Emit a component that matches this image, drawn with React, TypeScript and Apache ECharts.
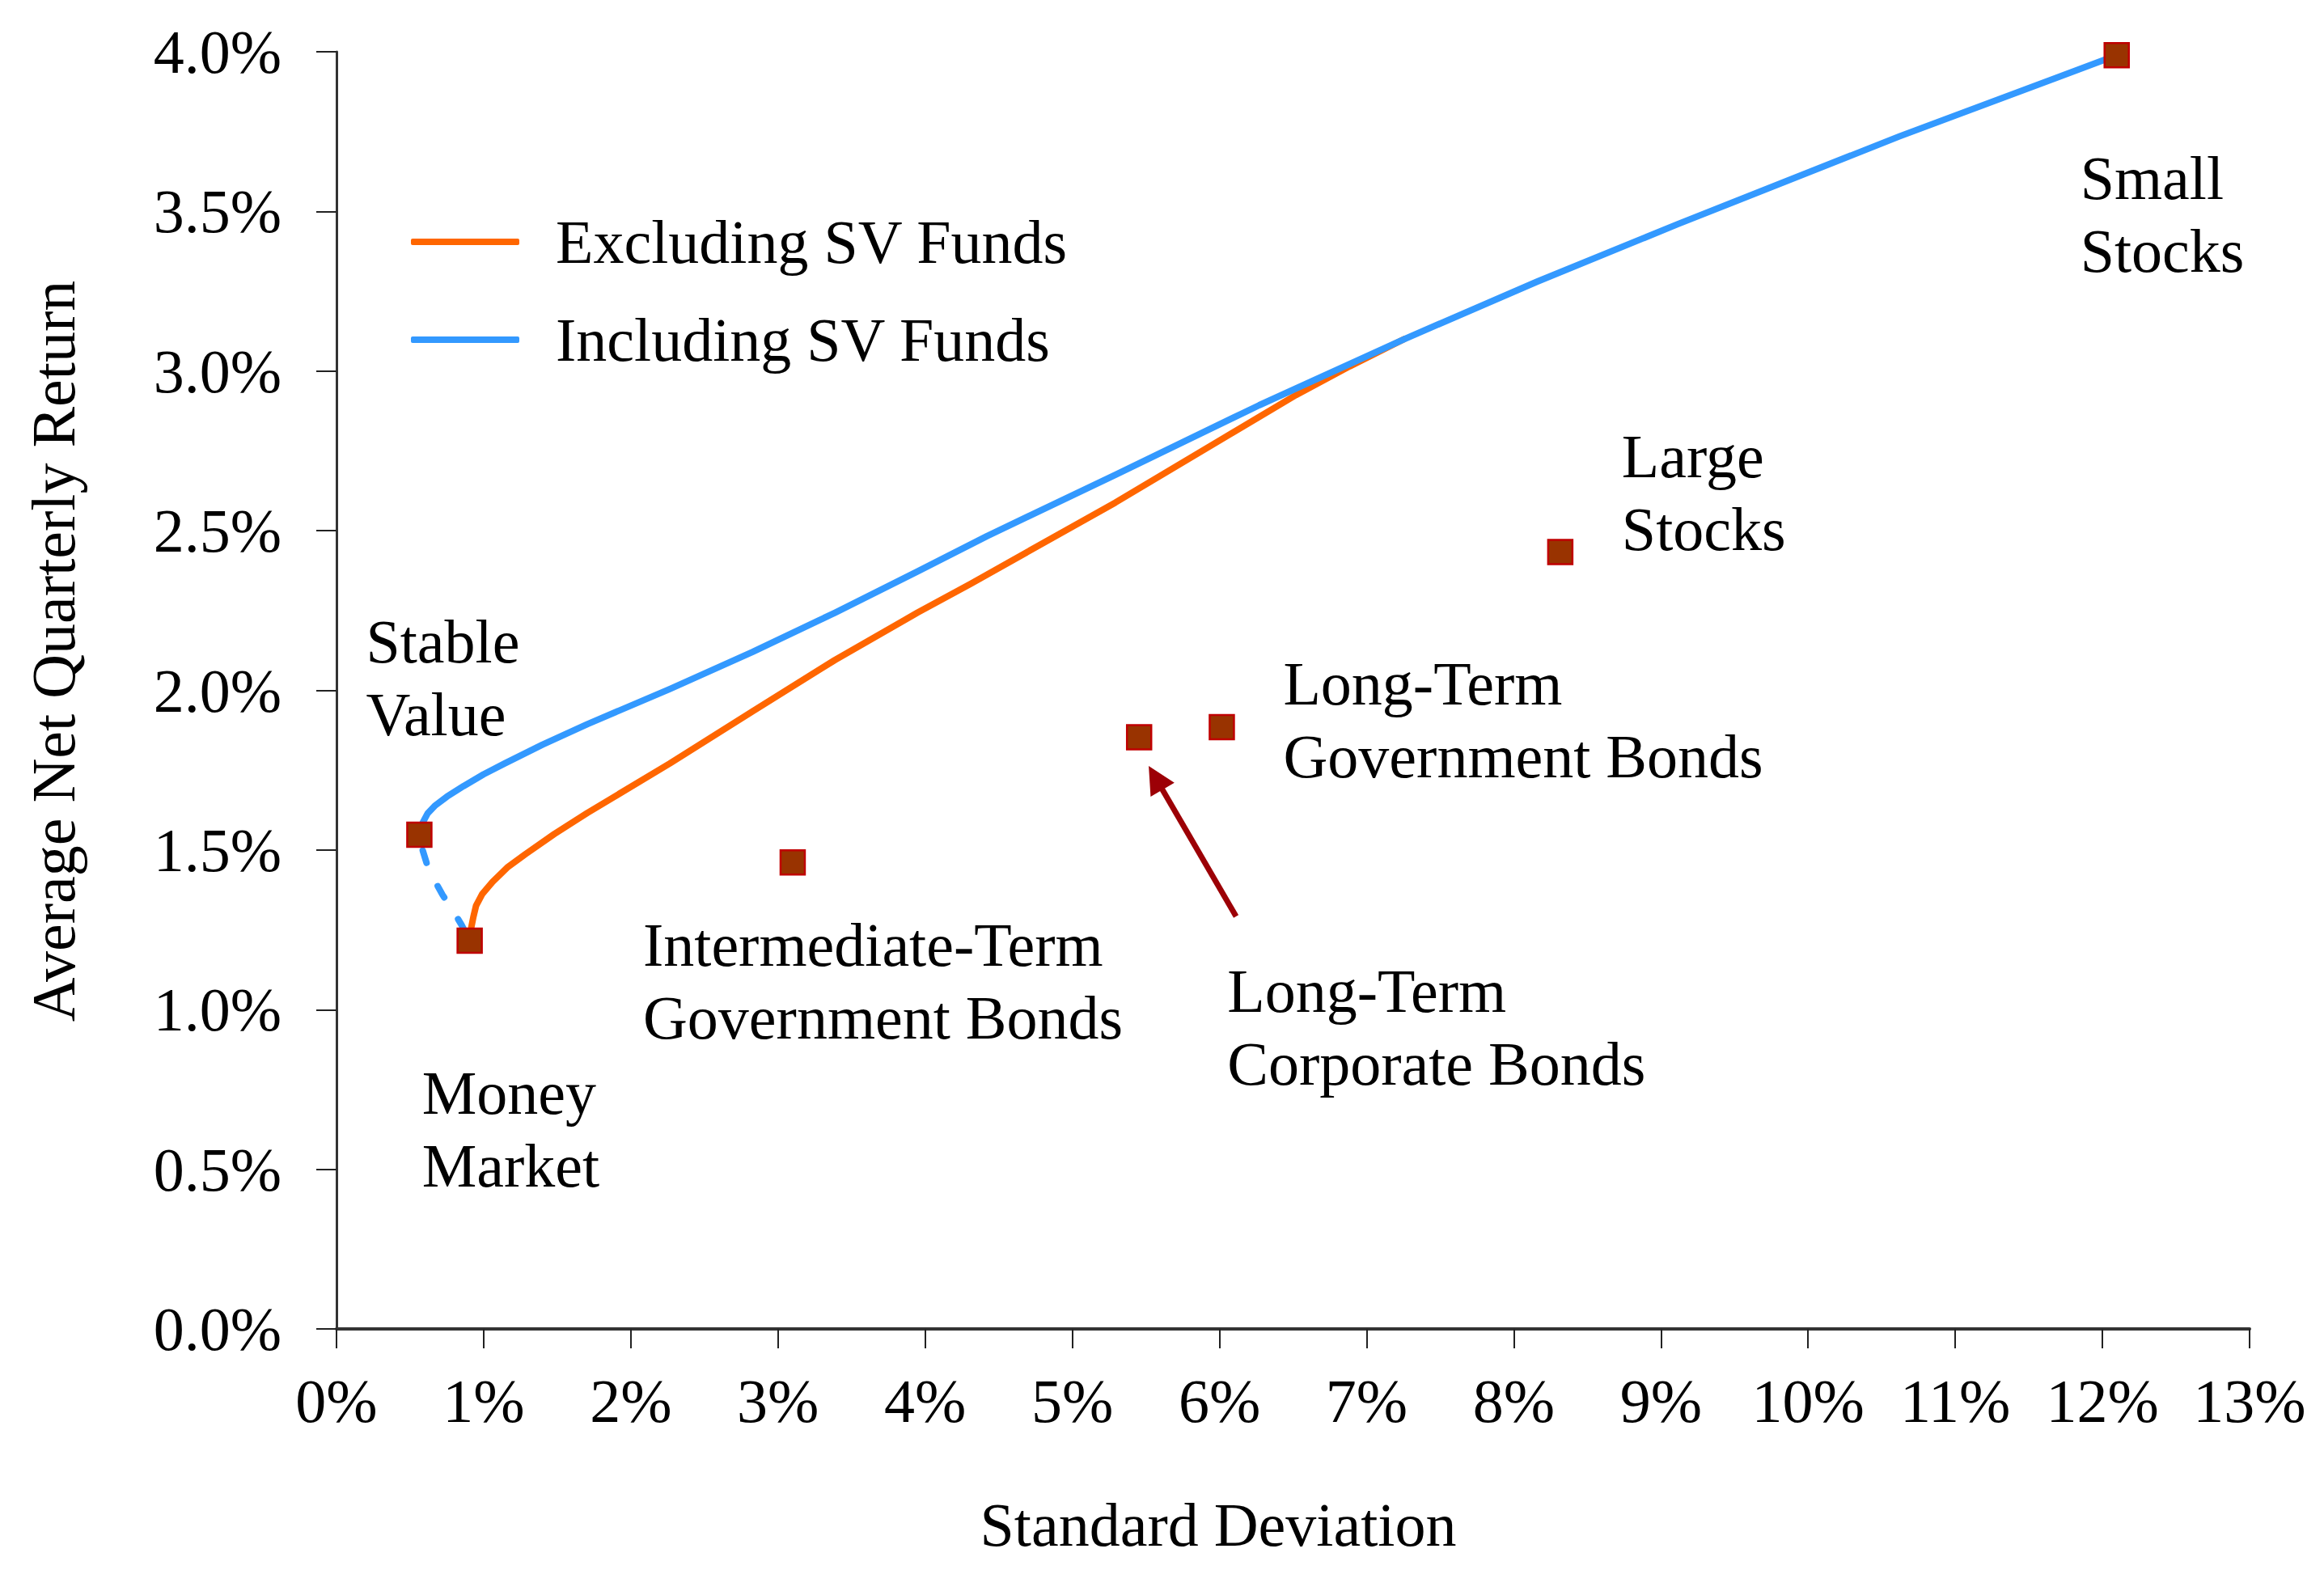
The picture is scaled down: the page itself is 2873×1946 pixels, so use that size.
import React, { useEffect, useRef } from "react";
import * as echarts from "echarts";

// ---- Data ----
const xTicks = [0, 1, 2, 3, 4, 5, 6, 7, 8, 9, 10, 11, 12, 13];
const yTicks = [0, 0.5, 1, 1.5, 2, 2.5, 3, 3.5, 4];

const assetNames = [
  "Stable\nValue",
  "Money\nMarket",
  "Intermediate-Term\nGovernment Bonds",
  "Long-Term\nCorporate Bonds",
  "Long-Term\nGovernment Bonds",
  "Large\nStocks",
  "Small\nStocks",
];
const assetSD = [0.563, 0.905, 3.1, 5.454, 6.016, 8.316, 12.097];
const assetReturn = [1.548, 1.216, 1.461, 1.853, 1.885, 2.433, 3.989];

// Frontier including stable value funds
const inclSD = [0.563, 0.585, 0.62, 0.667, 0.75, 0.863, 1.0, 1.143, 1.4, 1.704, 2.265, 2.826, 3.387, 3.947, 4.42, 5.292, 6.27, 7.255, 8.158, 9.114, 10.62, 12.097];
const inclRet = [1.548, 1.585, 1.615, 1.638, 1.667, 1.7, 1.737, 1.771, 1.83, 1.894, 2.004, 2.12, 2.243, 2.372, 2.483, 2.675, 2.893, 3.1, 3.28, 3.46, 3.735, 3.989];

// Frontier excluding stable value funds
const exclSD = [0.905, 0.915, 0.93, 0.948, 0.99, 1.06, 1.16, 1.284, 1.48, 1.704, 2.265, 2.826, 3.387, 3.947, 4.31, 5.292, 6.028, 6.52, 6.886, 7.255];
const exclRet = [1.216, 1.255, 1.29, 1.325, 1.362, 1.4, 1.445, 1.487, 1.55, 1.616, 1.771, 1.934, 2.095, 2.243, 2.334, 2.588, 2.79, 2.925, 3.015, 3.1];

// Dashed link between stable value and money market
const linkSD = [0.563, 0.585, 0.615, 0.66, 0.72, 0.785, 0.85, 0.905];
const linkRet = [1.548, 1.5, 1.455, 1.41, 1.36, 1.315, 1.265, 1.216];

// Arrow pointing at Long-Term Corporate Bonds
const arrowFrom = [6.113, 1.292];
const arrowTo = [5.566, 1.726];

const legendNames = ["Excluding SV Funds", "Including SV Funds"];
const xTitle = "Standard Deviation";
const yTitle = "Average Net Quarterly Return";

// ---- Styles ----
const FONT = '"Liberation Serif", "Times New Roman", serif';
const FS = 76;
const ORANGE = "#FF6600";
const BLUE = "#3399FF";
const LW = 8;
const labelOffsets = [
  [-66, -284],
  [-59, 143],
  [-185, 57],
  [109, 268],
  [76, -99],
  [76, -164],
  [-45, 107],
];

const zip = (a: number[], b: number[]) => a.map((v, i) => [v, b[i]]);

export default function App() {
  const ref = useRef<HTMLDivElement>(null);

  useEffect(() => {
    document.body.style.margin = "0";
    if (!ref.current) return;
    const chart = echarts.init(ref.current, undefined, { renderer: "svg" });

    const option: any = {
      animation: false,
      backgroundColor: "#ffffff",
      grid: { left: 416, right: 92, top: 64, bottom: 303, containLabel: false },
      xAxis: {
        type: "value",
        min: xTicks[0],
        max: xTicks[xTicks.length - 1],
        interval: 1,
        axisLine: { show: true, lineStyle: { color: "#333", width: 4 } },
        axisTick: { show: true, inside: false, length: 24, lineStyle: { color: "#222", width: 2 } },
        axisLabel: {
          margin: 51,
          fontFamily: FONT,
          fontSize: FS,
          color: "#000",
          formatter: (v: number) => `${v}%`,
        },
        splitLine: { show: false },
      },
      yAxis: {
        type: "value",
        min: yTicks[0],
        max: yTicks[yTicks.length - 1],
        interval: 0.5,
        axisLine: { show: true, lineStyle: { color: "#333", width: 3 } },
        axisTick: { show: true, inside: false, length: 25, lineStyle: { color: "#222", width: 2 } },
        axisLabel: {
          margin: 68,
          fontFamily: FONT,
          fontSize: FS,
          color: "#000",
          formatter: (v: number) => `${v.toFixed(1)}%`,
        },
        splitLine: { show: false },
      },
      legend: {
        data: legendNames,
        orient: "vertical",
        left: 503,
        top: 256,
        itemWidth: 134,
        itemHeight: 8,
        itemGap: 45,
        icon: "roundRect",
        selectedMode: false,
        textStyle: { fontFamily: FONT, fontSize: FS, color: "#000", padding: [0, 0, 0, 40] },
      },
      graphic: [
        {
          type: "text",
          x: 66,
          y: 805,
          rotation: Math.PI / 2,
          style: {
            text: yTitle,
            font: `${FS}px ${FONT}`,
            fill: "#000",
            align: "center",
            verticalAlign: "middle",
            textAlign: "center",
            textVerticalAlign: "middle",
          },
        },
        {
          type: "text",
          x: 1506,
          y: 1885,
          style: {
            text: xTitle,
            font: `${FS}px ${FONT}`,
            fill: "#000",
            align: "center",
            verticalAlign: "middle",
            textAlign: "center",
            textVerticalAlign: "middle",
          },
        },
      ],
      series: [
        {
          name: legendNames[0],
          type: "line",
          data: zip(exclSD, exclRet),
          showSymbol: false,
          symbol: "none",
          smooth: false,
          itemStyle: { color: ORANGE },
          lineStyle: { color: ORANGE, width: LW, cap: "round", join: "round" },
          z: 2,
          silent: true,
        },
        {
          name: legendNames[1],
          type: "line",
          data: zip(inclSD, inclRet),
          showSymbol: false,
          symbol: "none",
          smooth: false,
          itemStyle: { color: BLUE },
          lineStyle: { color: BLUE, width: LW, cap: "round", join: "round" },
          z: 3,
          silent: true,
        },
        {
          name: "link",
          type: "line",
          data: zip(linkSD, linkRet),
          showSymbol: false,
          symbol: "none",
          smooth: false,
          itemStyle: { color: BLUE },
          lineStyle: { color: BLUE, width: LW, type: [16, 32], dashOffset: -20, cap: "round", join: "round" },
          z: 3,
          silent: true,
        },
        {
          name: "arrow",
          type: "lines",
          coordinateSystem: "cartesian2d",
          symbol: ["none", "triangle"],
          symbolSize: 34,
          lineStyle: { color: "#9C0006", width: 7, opacity: 1, curveness: 0 },
          data: [{ coords: [arrowFrom, arrowTo] }],
          z: 4,
          silent: true,
        },
        {
          name: "assets",
          type: "scatter",
          symbol: "rect",
          symbolSize: 30,
          itemStyle: { color: "#993300", borderColor: "#C00000", borderWidth: 2.5, opacity: 1 },
          data: assetSD.map((sd, i) => ({
            value: [sd, assetReturn[i]],
            label: {
              show: true,
              position: "inside",
              offset: labelOffsets[i],
              align: "left",
              verticalAlign: "top",
              formatter: assetNames[i],
              fontFamily: FONT,
              fontSize: FS,
              lineHeight: 90,
              color: "#000",
              textBorderWidth: 0,
              textBorderColor: "transparent",
              textShadowBlur: 0,
            },
          })),
          z: 5,
          silent: true,
        },
      ],
    };

    chart.setOption(option);
    return () => chart.dispose();
  }, []);

  return <div ref={ref} style={{ width: 2873, height: 1946 }} />;
}
